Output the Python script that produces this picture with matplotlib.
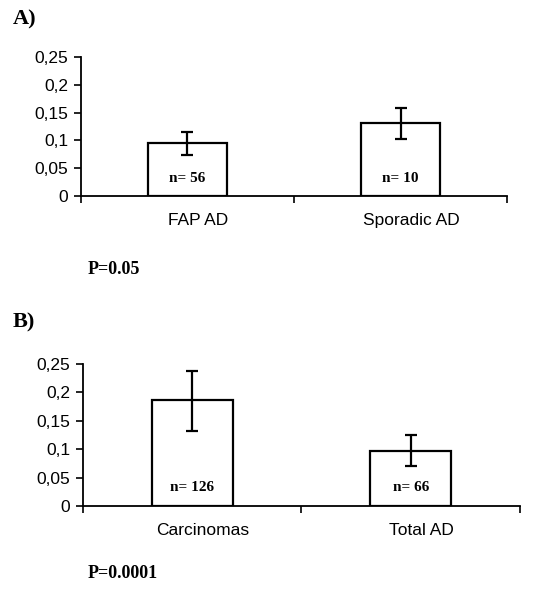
import matplotlib.pyplot as plt
import numpy as np

# panel A
cats_a = ['FAP AD', 'Sporadic AD']
vals_a = [0.096, 0.131]
err_lo_a = [0.0737, 0.103]
err_hi_a = [0.1145, 0.158]
n_a = ['n= 56', 'n= 10']

# panel B
cats_b = ['Carcinomas', 'Total AD']
vals_b = [0.187, 0.0974]
err_lo_b = [0.132, 0.0704]
err_hi_b = [0.2377, 0.125]
n_b = ['n= 126', 'n= 66']

yticks = [0, 0.05, 0.1, 0.15, 0.2, 0.25]
ytick_labels = ['0', '0,05', '0,1', '0,15', '0,2', '0,25']

sans = 'Liberation Sans'
serif = 'Liberation Serif'

fig = plt.figure(figsize=(5.52, 5.89), dpi=100)


def panel(rect, cats, vals, lo, hi, nlab):
    ax = fig.add_axes(rect)
    x = np.arange(len(cats)) + 0.5
    vals = np.array(vals)
    yerr = [vals - np.array(lo), np.array(hi) - vals]
    ax.bar(x, vals, width=0.37, color='white', edgecolor='black', linewidth=1.6, zorder=2)
    ax.errorbar(x, vals, yerr=yerr, fmt='none', ecolor='black', elinewidth=1.6,
                capsize=4.5, capthick=1.6, zorder=3)
    for xi, t in zip(x, nlab):
        ax.text(xi, 0.032, t, ha='center', va='center', fontsize=11,
                fontweight='bold', family=serif)
    ax.set_xlim(0, 2)
    ax.set_ylim(0, 0.25)
    ax.set_yticks(yticks)
    ax.set_yticklabels(ytick_labels, family=sans, fontsize=12.5)
    ax.set_xticks([0, 1, 2])
    ax.set_xticklabels([])
    # category labels sit a little right of the bars in the original
    ax.set_xticks(x + 0.05, minor=True)
    ax.set_xticklabels(cats, minor=True, family=sans, fontsize=12.5)
    ax.tick_params(axis='x', which='minor', length=0, pad=12)
    ax.tick_params(axis='x', which='major', length=5, width=1.2, direction='out')
    ax.tick_params(axis='y', length=5, width=1.2, direction='out', pad=4)
    for s in ['top', 'right']:
        ax.spines[s].set_visible(False)
    for s in ['left', 'bottom']:
        ax.spines[s].set_linewidth(1.3)
    return ax


panel([0.1467, 0.6672, 0.7718, 0.236], cats_a, vals_a, err_lo_a, err_hi_a, n_a)
panel([0.150, 0.1409, 0.792, 0.241], cats_b, vals_b, err_lo_b, err_hi_b, n_b)

fig.text(13 / 552, 1 - 19 / 589, 'A)', fontsize=16, fontweight='bold', family=serif,
         ha='left', va='center')
fig.text(13 / 552, 1 - 322 / 589, 'B)', fontsize=16, fontweight='bold', family=serif,
         ha='left', va='center')
fig.text(88 / 552, 1 - 269 / 589, 'P=0.05', fontsize=13, fontweight='bold', family=serif,
         ha='left', va='center')
fig.text(88 / 552, 1 - 574 / 589, 'P=0.0001', fontsize=13, fontweight='bold', family=serif,
         ha='left', va='center')

fig.savefig('out.png', dpi=100)
